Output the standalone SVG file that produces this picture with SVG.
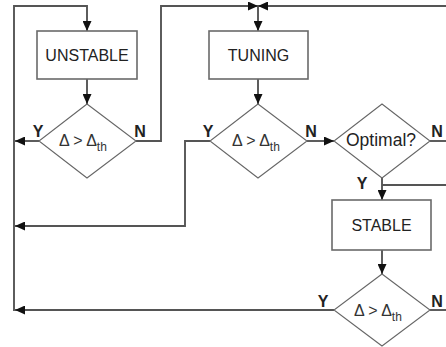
<svg xmlns="http://www.w3.org/2000/svg" width="446" height="347" viewBox="0 0 446 347">
<style>
.box{fill:#fff;stroke:#6a6a6a;stroke-width:1.6}
.dia{fill:#fff;stroke:#666;stroke-width:1.1}
.lbl{font-family:"Liberation Sans",Arial,sans-serif;font-size:16px;fill:#222;text-anchor:middle}
.yn{font-family:"Liberation Sans",Arial,sans-serif;font-size:16px;font-weight:bold;fill:#222;text-anchor:middle}
.cond{font-family:"Liberation Sans",Arial,sans-serif;font-size:16px;fill:#333}
.sub{font-size:12px}
.c{fill:none;stroke:#555;stroke-width:1.9}
.a{marker-end:url(#ah)}
</style>
<defs>
<marker id="ah" markerUnits="userSpaceOnUse" markerWidth="10" markerHeight="9" refX="10" refY="4.5" orient="auto">
<path d="M0,0 L10,4.5 L0,9 z" fill="#111"/>
</marker>
</defs>
<rect width="446" height="347" fill="#fff"/>
<g id="connectors">
<path class="c a" d="M39,141 H15"/>
<path class="c a" d="M14,311 V6 H87 V31"/>
<path class="c a" d="M87,79 V104"/>
<path class="c a" d="M136,141 H161 V6 H258"/>
<path class="c a" d="M446,6 H258"/>
<path class="c a" d="M258,7 V31"/>
<path class="c a" d="M258,79 V104"/>
<path class="c a" d="M210,141 H185 V226 H15"/>
<path class="c a" d="M307,141 H334"/>
<path class="c" d="M430,141 H446"/>
<path class="c a" d="M382,178 V200"/>
<path class="c" d="M446,185 H382"/>
<path class="c a" d="M382,250 V274"/>
<path class="c a" d="M334,310 H15"/>
<path class="c" d="M430,310 H446"/>
</g>
<g id="unstable">
<rect class="box" x="37" y="31" width="100" height="48"/>
<text class="lbl" x="87" y="61">UNSTABLE</text>
</g>
<g id="tuning">
<rect class="box" x="209" y="31" width="99" height="48"/>
<text class="lbl" x="258.5" y="61">TUNING</text>
</g>
<g id="stable">
<rect class="box" x="332" y="200" width="99" height="50"/>
<text class="lbl" x="381.5" y="231">STABLE</text>
</g>
<g id="cond1">
<path class="dia" d="M87,104 L136,141 L87,178 L39,141 Z"/>
<text class="cond" x="59" y="146">Δ &gt; Δ<tspan class="sub" dy="5">th</tspan></text>
<text class="yn" x="38" y="137">Y</text>
<text class="yn" x="140" y="137">N</text>
</g>
<g id="cond2">
<path class="dia" d="M258,104 L307,141 L258,178 L210,141 Z"/>
<text class="cond" x="232" y="146">Δ &gt; Δ<tspan class="sub" dy="5">th</tspan></text>
<text class="yn" x="208" y="137">Y</text>
<text class="yn" x="311" y="137">N</text>
</g>
<g id="optimal">
<path class="dia" d="M382,104 L430,141 L382,178 L334,141 Z"/>
<text class="lbl" x="381" y="146" style="font-size:17.5px">Optimal?</text>
<text class="yn" x="437" y="137">N</text>
<text class="yn" x="362" y="189">Y</text>
</g>
<g id="cond3">
<path class="dia" d="M382,274 L430,310 L382,346 L334,310 Z"/>
<text class="cond" x="354" y="316">Δ &gt; Δ<tspan class="sub" dy="5">th</tspan></text>
<text class="yn" x="323" y="307">Y</text>
<text class="yn" x="437" y="307">N</text>
</g>
</svg>
